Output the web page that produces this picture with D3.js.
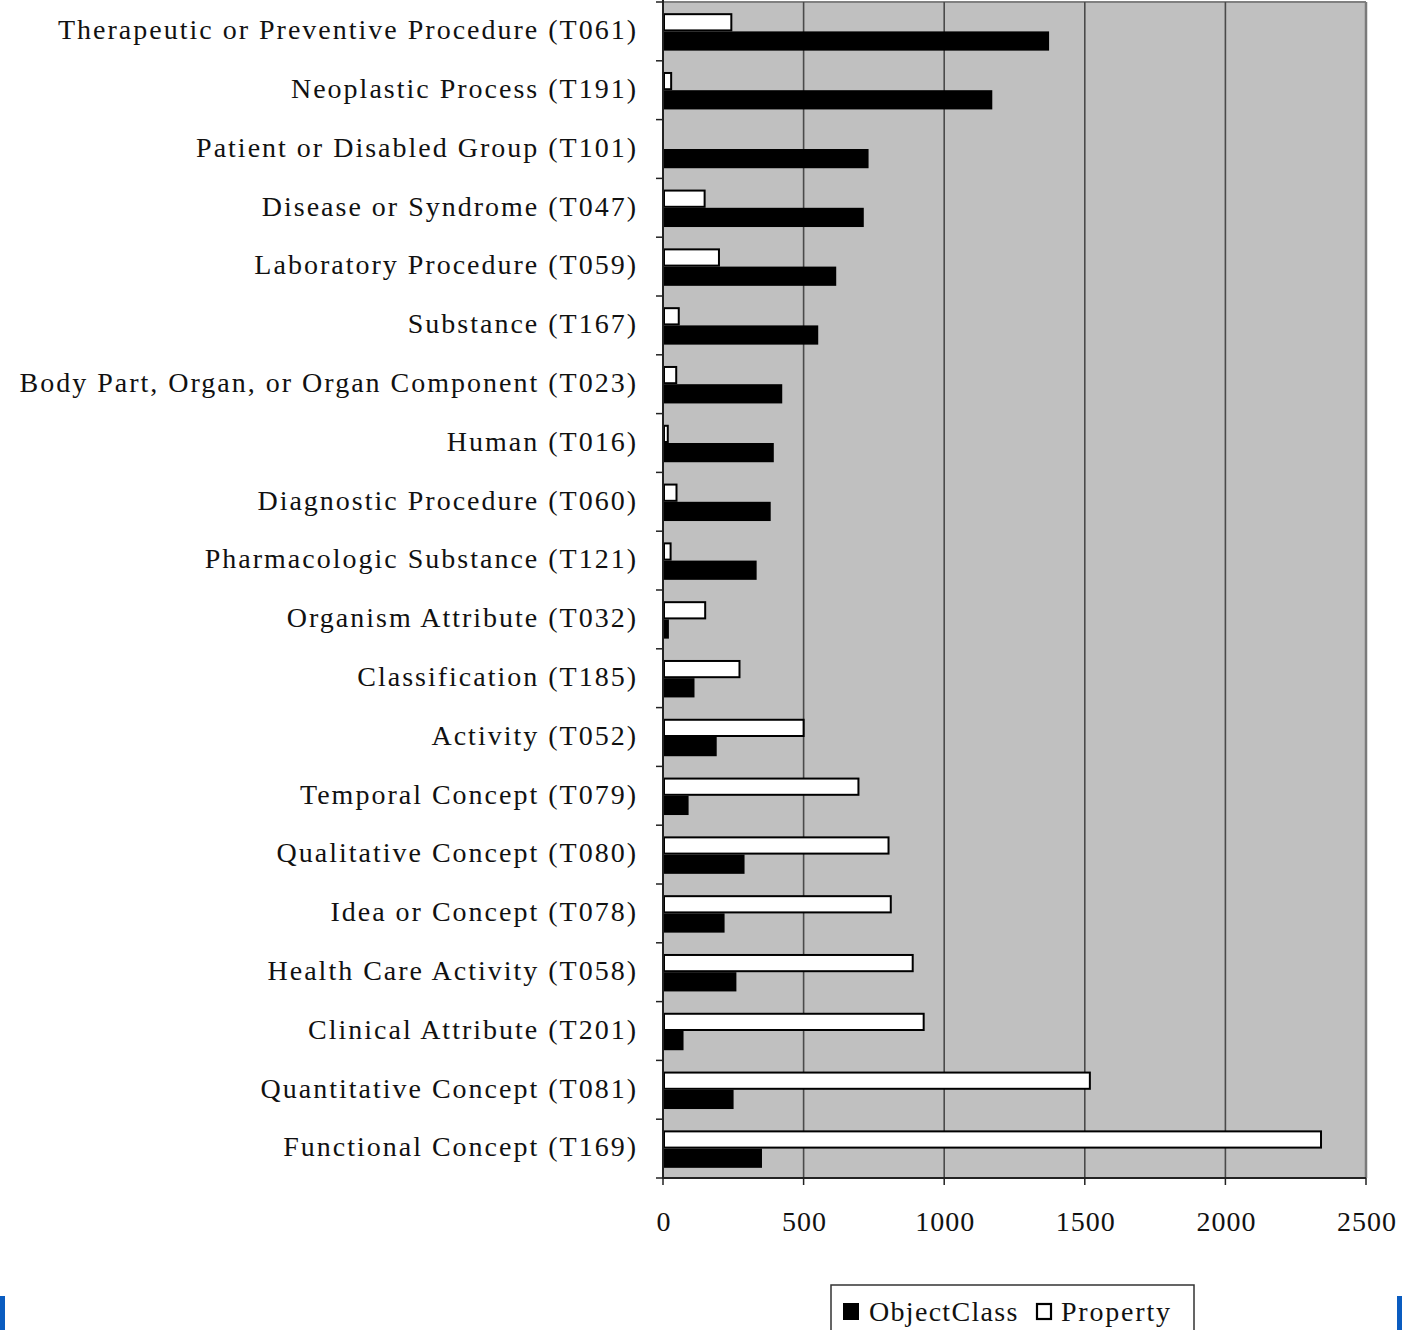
<!DOCTYPE html>
<html>
<head>
<meta charset="utf-8">
<script src="https://cdn.jsdelivr.net/npm/d3@7"></script>
<style>
  body { margin: 0; background: #fff; }
  text { font-family: "Liberation Serif", "Times New Roman", serif; fill: #111; }
</style>
</head>
<body>
<div id="chart-area"></div>
<script>
// categories, top to bottom
var categories = [
    "Therapeutic or Preventive Procedure (T061)",
    "Neoplastic Process (T191)",
    "Patient or Disabled Group (T101)",
    "Disease or Syndrome (T047)",
    "Laboratory Procedure (T059)",
    "Substance (T167)",
    "Body Part, Organ, or Organ Component (T023)",
    "Human (T016)",
    "Diagnostic Procedure (T060)",
    "Pharmacologic Substance (T121)",
    "Organism Attribute (T032)",
    "Classification (T185)",
    "Activity (T052)",
    "Temporal Concept (T079)",
    "Qualitative Concept (T080)",
    "Idea or Concept (T078)",
    "Health Care Activity (T058)",
    "Clinical Attribute (T201)",
    "Quantitative Concept (T081)",
    "Functional Concept (T169)"
];
var objectClass = [1373, 1171, 731, 714, 616, 552, 424, 394, 383, 333, 21, 112, 191, 91, 290, 219, 261, 73, 251, 352];
var property    = [243, 29, 0, 148, 199, 56, 47, 17, 48, 27, 150, 272, 500, 695, 802, 810, 888, 927, 1518, 2340];
var xTicks = [0, 500, 1000, 1500, 2000, 2500];
var seriesNames = ["ObjectClass", "Property"];

var W = 1402, H = 1330;
var margin = { left: 663, right: 36, top: 2, bottom: 152 };
var width = W - margin.left - margin.right,
    height = H - margin.top - margin.bottom;

var svg = d3.select("#chart-area")
    .append("svg")
        .attr("width", W)
        .attr("height", H);

var g = svg.append("g")
    .attr("transform", "translate(" + margin.left + "," + margin.top + ")");

var x = d3.scaleLinear().domain([0, 2500]).range([0, width]);
var y = d3.scaleBand().domain(categories).range([0, height])
    .paddingInner(0.38).paddingOuter(0.19);
var sub = d3.scaleBand().domain(["Property", "ObjectClass"]).range([0, y.bandwidth()]);

// plot background
g.append("rect")
    .attr("width", width).attr("height", height)
    .attr("fill", "#c0c0c0");

// border top / right
g.append("line").attr("x1", 0).attr("x2", width).attr("y1", 0).attr("y2", 0)
    .attr("stroke", "#808080").attr("stroke-width", 2);
g.append("line").attr("x1", width).attr("x2", width).attr("y1", 0).attr("y2", height)
    .attr("stroke", "#7a7a7a").attr("stroke-width", 2.5);

// gridlines
g.selectAll(".grid").data(xTicks.slice(1, -1)).enter()
    .append("line")
        .attr("class", "grid")
        .attr("x1", function(d){ return x(d); })
        .attr("x2", function(d){ return x(d); })
        .attr("y1", 0).attr("y2", height)
        .attr("stroke", "#4a4a4a").attr("stroke-width", 1.6);

var rows = categories.map(function(c, i){
    return { cat: c, ObjectClass: objectClass[i], Property: property[i] };
});

// Property bars (white)
g.selectAll(".prop").data(rows.filter(function(d){ return d.Property > 0; })).enter()
    .append("rect")
        .attr("class", "prop")
        .attr("x", x(0) + 1)
        .attr("y", function(d){ return y(d.cat) + sub("Property") + 1; })
        .attr("width", function(d){ return Math.max(x(d.Property) - 1, 2); })
        .attr("height", sub.bandwidth() - 2)
        .attr("fill", "#fff")
        .attr("stroke", "#000")
        .attr("stroke-width", 2);

// ObjectClass bars (black)
g.selectAll(".obj").data(rows).enter()
    .append("rect")
        .attr("class", "obj")
        .attr("x", x(0))
        .attr("y", function(d){ return y(d.cat) + sub("ObjectClass"); })
        .attr("width", function(d){ return x(d.ObjectClass); })
        .attr("height", sub.bandwidth() + 1)
        .attr("fill", "#000");

// y axis
var yAxisGroup = g.append("g").attr("class", "y axis");
yAxisGroup.append("line").attr("x1", 0).attr("x2", 0).attr("y1", -2).attr("y2", height + 1)
    .attr("stroke", "#222").attr("stroke-width", 2);
var step = y.step();
var bounds = d3.range(categories.length + 1).map(function(i){ return y(categories[0]) - y.paddingOuter() * step + i * step; });
yAxisGroup.selectAll(".ytick").data(bounds).enter()
    .append("line")
        .attr("x1", -7).attr("x2", 0)
        .attr("y1", function(d){ return d; }).attr("y2", function(d){ return d; })
        .attr("stroke", "#222").attr("stroke-width", 1.5);
yAxisGroup.selectAll(".ylabel").data(categories).enter()
    .append("text")
        .attr("x", -25)
        .attr("y", function(d){ return y(d) + y.bandwidth() / 2 - 2; })
        .attr("dy", "0.35em")
        .attr("text-anchor", "end")
        .attr("font-size", "28px")
        .attr("letter-spacing", "2px")
        .text(function(d){ return d; });

// x axis
var xAxisGroup = g.append("g").attr("class", "x axis")
    .attr("transform", "translate(0," + height + ")");
xAxisGroup.append("line").attr("x1", 0).attr("x2", width).attr("y1", 0).attr("y2", 0)
    .attr("stroke", "#222").attr("stroke-width", 2);
xAxisGroup.selectAll(".xtick").data(xTicks).enter()
    .append("line")
        .attr("x1", function(d){ return x(d); }).attr("x2", function(d){ return x(d); })
        .attr("y1", 0).attr("y2", 7)
        .attr("stroke", "#222").attr("stroke-width", 1.5);
xAxisGroup.selectAll(".xlabel").data(xTicks).enter()
    .append("text")
        .attr("x", function(d){ return x(d) + 1; })
        .attr("y", 53)
        .attr("text-anchor", "middle")
        .attr("font-size", "28px")
        .attr("letter-spacing", "1px")
        .text(function(d){ return d; });

// legend
var legend = svg.append("g").attr("transform", "translate(831,1285)");
legend.append("rect")
    .attr("width", 363).attr("height", 50)
    .attr("fill", "#fff").attr("stroke", "#333").attr("stroke-width", 1.5);
legend.append("rect").attr("x", 12).attr("y", 18).attr("width", 16).attr("height", 17).attr("fill", "#000");
legend.append("text").attr("x", 38).attr("y", 36).attr("font-size", "28px")
    .attr("letter-spacing", "1.3px").text(seriesNames[0]);
legend.append("rect").attr("x", 206).attr("y", 19).attr("width", 14).attr("height", 15)
    .attr("fill", "#fff").attr("stroke", "#000").attr("stroke-width", 2.2);
legend.append("text").attr("x", 230).attr("y", 36).attr("font-size", "28px")
    .attr("letter-spacing", "1.8px").text(seriesNames[1]);

// page edge marks
svg.append("rect").attr("x", 0).attr("y", 1296).attr("width", 5).attr("height", 34).attr("fill", "#0a5cc0");
svg.append("rect").attr("x", 1397).attr("y", 1296).attr("width", 5).attr("height", 34).attr("fill", "#0a5cc0");
</script>
</body>
</html>
